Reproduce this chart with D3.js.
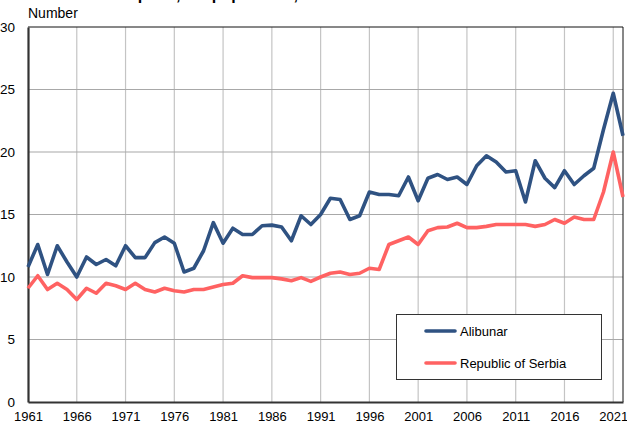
<!DOCTYPE html>
<html>
<head>
<meta charset="utf-8">
<script src="https://cdn.jsdelivr.net/npm/d3@7"></script>
<style>
  html, body { margin: 0; padding: 0; background: #fff; }
  svg { display: block; font-family: "Liberation Sans", Arial, sans-serif; }
</style>
</head>
<body>
<svg id="chart" width="627" height="426"></svg>
<script>
const years = d3.range(1961, 2023);
const alibunar = [10.8, 12.6, 10.2, 12.5, 11.2, 10.0, 11.6, 11.0, 11.4, 10.9,
  12.5, 11.55, 11.55, 12.75, 13.2, 12.7, 10.4, 10.7, 12.1, 14.35,
  12.7, 13.9, 13.4, 13.4, 14.1, 14.15, 14.0, 12.9, 14.9, 14.2,
  15.0, 16.3, 16.2, 14.6, 14.9, 16.8, 16.6, 16.6, 16.5, 18.0,
  16.1, 17.9, 18.2, 17.8, 18.0, 17.4, 18.9, 19.7, 19.2, 18.4,
  18.5, 16.0, 19.3, 17.9, 17.15, 18.5, 17.4, 18.1, 18.7, 21.8,
  24.7, 21.3];
const serbia = [9.1, 10.1, 9.0, 9.5, 9.0, 8.2, 9.1, 8.7, 9.5, 9.3,
  9.0, 9.5, 9.0, 8.8, 9.1, 8.9, 8.8, 9.0, 9.0, 9.2,
  9.4, 9.5, 10.1, 9.95, 9.95, 9.95, 9.85, 9.7, 9.95, 9.65,
  10.0, 10.3, 10.4, 10.2, 10.3, 10.7, 10.6, 12.6, 12.9, 13.2,
  12.6, 13.7, 13.95, 14.0, 14.3, 13.95, 13.95, 14.05, 14.2, 14.2,
  14.2, 14.2, 14.05, 14.2, 14.6, 14.3, 14.8, 14.6, 14.6, 16.8,
  20.0, 16.4];
const xTicks = d3.range(1961, 2022, 5);
const yTicks = [0, 5, 10, 15, 20, 25, 30];
const seriesNames = ["Alibunar", "Republic of Serbia"];
const seriesColors = ["#2f5282", "#ff6262"];
const titleText = "Deaths per 1,000 population, Alibunar";
const yLabel = "Number";

const svg = d3.select("#chart");
const L = 28, R = 623, T = 27, B = 402;
const x = d3.scaleLinear().domain([1961, 2022]).range([L, R]);
const y = d3.scaleLinear().domain([0, 30]).range([B, T]);

// title (cut off at the top, as in the reference)
svg.append("text").attr("x", 80).attr("y", 0)
  .attr("font-size", 16).attr("font-weight", "bold").attr("fill", "#000")
  .text(titleText);

svg.append("text").attr("x", 28).attr("y", 18)
  .attr("font-size", 14).attr("fill", "#000").text(yLabel);

// grid
const grid = svg.append("g");
grid.selectAll("line.v").data(xTicks.slice(1)).join("line")
  .attr("x1", d => x(d)).attr("x2", d => x(d))
  .attr("y1", T).attr("y2", B)
  .attr("stroke", "#c4c4c4").attr("stroke-width", 1.2);
grid.selectAll("line.h").data(yTicks.slice(1, -1)).join("line")
  .attr("x1", L).attr("x2", R)
  .attr("y1", d => y(d)).attr("y2", d => y(d))
  .attr("stroke", "#a8a8a8").attr("stroke-width", 1.2);

// frame
svg.append("line").attr("x1", L).attr("x2", R).attr("y1", T).attr("y2", T)
  .attr("stroke", "#111").attr("stroke-width", 1);
svg.append("line").attr("x1", R).attr("x2", R).attr("y1", T).attr("y2", B)
  .attr("stroke", "#111").attr("stroke-width", 1);

// axes
const yAxis = d3.axisLeft(y).tickValues(yTicks).tickSize(0).tickPadding(13);
const gy = svg.append("g").attr("transform", `translate(${L},0)`).call(yAxis);
gy.select(".domain").attr("stroke", "#333").attr("stroke-width", 2.2);
gy.selectAll("text").attr("font-size", 13.5).attr("fill", "#000")
  .attr("font-family", "Liberation Sans, Arial, sans-serif");

const xAxis = d3.axisBottom(x).tickValues(xTicks).tickFormat(d3.format("d")).tickSize(0).tickPadding(10);
const gx = svg.append("g").attr("transform", `translate(0,${B})`).call(xAxis);
gx.select(".domain").attr("stroke", "#333").attr("stroke-width", 2.2);
gx.selectAll("text").attr("font-size", 13).attr("fill", "#000")
  .attr("font-family", "Liberation Sans, Arial, sans-serif");

// lines
const line = d3.line().x((d, i) => x(years[i])).y(d => y(d));
[serbia, alibunar].forEach((s, k) => {
  const color = k === 0 ? seriesColors[1] : seriesColors[0];
  svg.append("path").datum(s).attr("d", line)
    .attr("fill", "none").attr("stroke", color)
    .attr("stroke-width", 3.6).attr("stroke-linejoin", "round");
});

// legend
const lg = svg.append("g");
lg.append("rect").attr("x", 396.5).attr("y", 314.5).attr("width", 205).attr("height", 65)
  .attr("fill", "#fff").attr("stroke", "#333").attr("stroke-width", 1);
const rowsY = [331, 363];
seriesNames.forEach((n, i) => {
  lg.append("line").attr("x1", 426).attr("x2", 455).attr("y1", rowsY[i]).attr("y2", rowsY[i])
    .attr("stroke", seriesColors[i]).attr("stroke-width", 3.6).attr("stroke-linecap", "round");
  lg.append("text").attr("x", 460).attr("y", rowsY[i] + 4.5)
    .attr("font-size", 13).attr("fill", "#000").text(n);
});
</script>
</body>
</html>
